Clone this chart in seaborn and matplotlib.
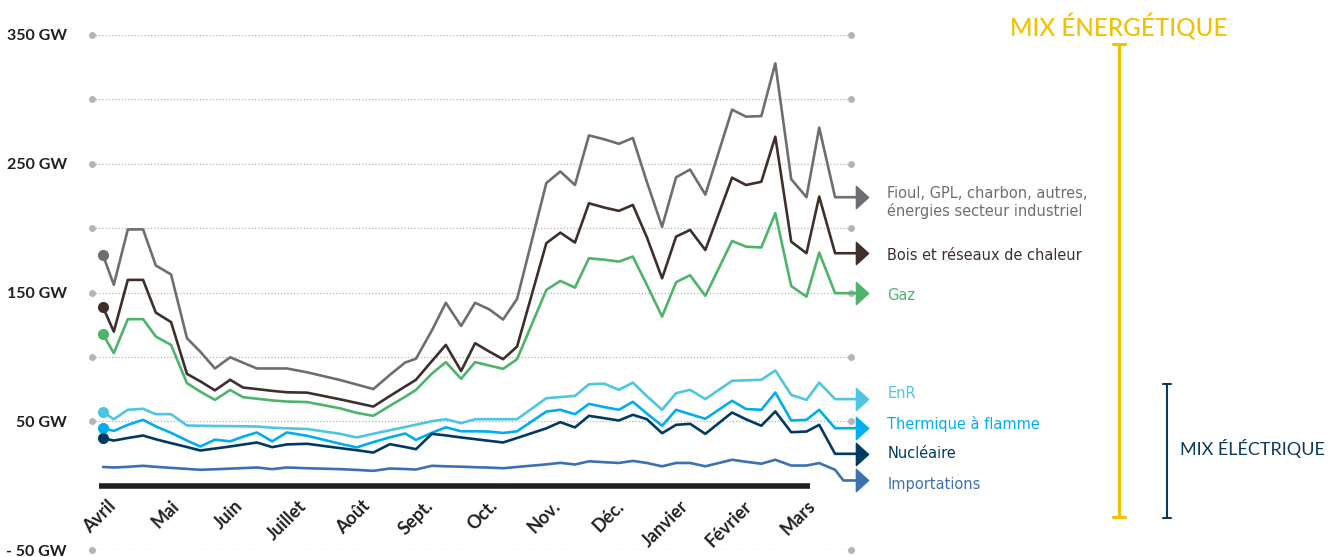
import numpy as np
import pandas as pd
import matplotlib
matplotlib.use("Agg")
import matplotlib.pyplot as plt
import seaborn as sns
from matplotlib.lines import Line2D
from matplotlib.path import Path

# ================= DATA =================
# x = months since 1st of April
X = [0.00, 0.17, 0.39, 0.63, 0.83, 1.07, 1.32, 1.53, 1.76, 2.00, 2.20, 2.42, 2.66, 2.89,
     3.21, 3.73, 3.99, 4.25, 4.51, 4.75, 4.92, 5.17, 5.39, 5.63, 5.85, 6.07, 6.29, 6.51,
     6.97, 7.19, 7.42, 7.64, 7.88, 8.11, 8.33, 8.55, 8.79, 9.01, 9.23, 9.47, 9.89, 10.11,
     10.35, 10.57, 10.82, 11.06, 11.26, 11.51, 11.64]

FIOUL = [179, 156, 199, 199, 171, 164, 114.5, 104, 91, 99.7, 95.5, 91, 91, 91, 88, 82, 78.5,
         75, 86, 95.6, 98.5, 120.5, 142, 124, 142, 137, 129, 145, 235, 244, 233.5, 272, 269,
         265.5, 270, 236, 201, 239.5, 245.5, 226, 292, 286.6, 287, 328, 238, 224, 278, 224, 224]
BOIS = [138.6, 119.6, 159.8, 159.8, 134.4, 127, 86.8, 81, 74, 82.2, 76.2, 75, 73.6, 72.5, 72.2,
        67, 64.2, 61.4, 69.6, 77, 82.2, 96.7, 109.3, 89, 110.6, 104.2, 98.2, 108, 188.3, 196.5,
        188.8, 219.3, 216, 213.4, 218, 193, 161, 193.4, 198.6, 183, 239.2, 233.5, 236, 271,
        189.5, 180.5, 224.5, 180.5, 180.5]
GAZ = [117.6, 102.9, 129.3, 129.3, 115.8, 109.3, 79.6, 73, 66.6, 74.3, 68.7, 67.5, 66.2, 65.3,
       64.9, 60, 56.5, 54.2, 62, 69, 74.3, 87, 95.9, 83, 95.9, 93.3, 90.7, 98.2, 152, 159, 153.8,
       176.6, 175.5, 174, 177.9, 156, 131.3, 158, 163.4, 147.4, 190, 185.6, 185, 211.6, 155,
       146.8, 181, 149.5, 149.5]
ENR = [57.1, 51.6, 58.9, 59.7, 55.5, 55.5, 46.7, 46.5, 46.3, 46.2, 46.1, 45.9, 45, 44.5, 44,
       40.2, 37.4, 40.3, 43, 45.5, 47.3, 50, 51.6, 48.5, 51.6, 51.6, 51.6, 51.6, 67.9, 68.8, 69.7,
       78.7, 79.2, 74.4, 80, 69.5, 58.9, 71.8, 74.4, 67.2, 81.4, 81.8, 82.2, 89.4, 70.5, 66.6, 80,
       67.2, 67.2]
THERMIQUE = [44.6, 42.5, 47.2, 51.1, 46, 41, 35, 30.4, 35.7, 34.4, 38, 41.3, 34.4, 41.3, 38.7,
             32.5, 29.7, 33.8, 37.5, 40.5, 35.5, 41, 45.3, 42.2, 42.2, 42, 40.9, 42.2, 57.5, 58.9,
             55.5, 63.5, 61, 58.9, 65.1, 56, 46.5, 58.9, 55.5, 51.9, 65.9, 59.5, 58.9, 72.3,
             50.6, 51.1, 58.9, 44.6, 44.6]
NUCLEAIRE = [36.8, 35, 37, 38.9, 36, 33, 30, 27.3, 28.8, 30.4, 31.9, 33.5, 29.9, 32, 32.5, 29.1,
             27.5, 25.7, 32.2, 30, 28.3, 40.2, 39, 37.4, 36.1, 34.8, 33.5, 37, 44.5, 49.3, 45.2,
             54.2, 52.4, 50.6, 55, 51.6, 40.7, 47.2, 48, 40.2, 56.8, 51.5, 46.5, 57.6, 41.5, 42,
             47.2, 24.7, 24.7]
IMPORTATIONS = [14.5, 14.1, 14.6, 15.4, 14.6, 13.8, 13, 12.3, 12.7, 13.2, 13.6, 14.1, 12.8, 14.1,
                13.5, 12.8, 12.2, 11.5, 13.3, 12.9, 12.5, 15.4, 15, 14.7, 14.3, 14, 13.5, 14.5,
                16.5, 17.7, 16.4, 18.9, 18.2, 17.6, 19.2, 17.6, 15, 17.6, 17.6, 15, 20.1, 18.5,
                17, 20.1, 15.6, 15.6, 17.5, 12.3, 4]

MONTHS = ["Avril", "Mai", "Juin", "Juillet", "Août", "Sept.", "Oct.", "Nov.", "Déc.",
          "Janvier", "Février", "Mars"]
YTICKS = [-50, 50, 150, 250, 350]
YTICK_LABELS = ["- 50 GW", "50 GW", "150 GW", "250 GW", "350 GW"]
GRID_LEVELS = [-50, 50, 100, 150, 200, 250, 300, 350]

SERIES = [
    ("Fioul, GPL, charbon, autres,\nénergies secteur industriel", FIOUL, "#6d6e71", 220, True),
    ("Bois et réseaux de chaleur", BOIS, "#3e2f2a", 178.5, True),
    ("Gaz", GAZ, "#4db46a", 147.5, True),
    ("EnR", ENR, "#4fc6e1", 71.5, True),
    ("Thermique à flamme", THERMIQUE, "#00aeef", 48, True),
    ("Nucléaire", NUCLEAIRE, "#003a63", 24.7, True),
    ("Importations", IMPORTATIONS, "#3d70b2", 0.5, False),
]

END_X = 11.93
LABEL_X = 12.33

# ================= STYLE =================
sns.set_theme(style="white")
plt.rcParams["font.family"] = ["Lato", "DejaVu Sans"]
NARROW = ["Liberation Sans Narrow", "DejaVu Sans"]

W, H = 1340, 557
fig = plt.figure(figsize=(W / 100, H / 100), dpi=100)
ax = fig.add_axes([92 / W, 7 / H, (851 - 92) / W, 515 / H])
ax.set_xlim(-0.173, 11.76)
ax.set_ylim(-50, 350)
sns.despine(ax=ax, left=True, bottom=True)
ax.set_xticks([])

# gridlines with dots at the ends
for lvl in GRID_LEVELS:
    ax.axhline(lvl, color="#b5b5b8", lw=0.9, ls=(0, (1, 1.6)), zorder=0)
    ax.plot([-0.173, 11.76], [lvl, lvl], "o", color="#b5b5b8", ms=4, clip_on=False, zorder=0)

ax.set_yticks(YTICKS, YTICK_LABELS)
ax.tick_params(axis="y", length=0, pad=18)
for t in ax.get_yticklabels():
    t.set_fontweight("bold")
    t.set_fontsize(11.5)
    t.set_color("#231f20")

# thick black base line
ax.hlines(0, -0.06, 11.12, color="#231f20", lw=4, zorder=2)

arrow = Path([(-0.55, -1), (0.55, 0), (-0.55, 1), (-0.55, -1)],
             [Path.MOVETO, Path.LINETO, Path.LINETO, Path.CLOSEPOLY])

for label, vals, color, ly, dot in SERIES:
    df = pd.DataFrame({"x": X + [END_X], "y": vals + [vals[-1]]})
    sns.lineplot(data=df, x="x", y="y", ax=ax, color=color, lw=1.9,
                 clip_on=False, zorder=3, estimator=None, sort=False)
    if dot:
        ax.plot(X[0], vals[0], "o", color=color, ms=7, clip_on=False, zorder=4)
    ax.plot(END_X, vals[-1], marker=arrow, color=color, ms=16, clip_on=False, zorder=4)
    ax.text(LABEL_X, ly, label, color=color, family=NARROW, fontstretch="condensed",
            fontsize=11.7, va="center", ha="left", linespacing=1.1, clip_on=False)

ax.set_xlabel("")
ax.set_ylabel("")

for i, m in enumerate(MONTHS):
    ax.text(i + 0.06, -9, m, rotation=45, ha="right", va="top", rotation_mode="anchor",
            fontsize=13, fontweight="bold", color="#231f20")

# ================= RIGHT SIDE BRACKETS =================
def fx(px):
    return px / W

def fy(py):
    return 1 - py / H

yellow = "#f2c100"
navy = "#0b3a5e"
fig.text(fx(1119), fy(27), "MIX ÉNERGÉTIQUE", color=yellow, fontsize=17.5,
         fontweight=500, ha="center", va="center")
fig.add_artist(Line2D([fx(1119), fx(1119)], [fy(44), fy(517)], color=yellow, lw=2.2))
for py in (44, 517):
    fig.add_artist(Line2D([fx(1113), fx(1125)], [fy(py), fy(py)], color=yellow, lw=2.2))

fig.add_artist(Line2D([fx(1167), fx(1167)], [fy(384), fy(518)], color=navy, lw=1.5))
for py in (384, 518):
    fig.add_artist(Line2D([fx(1163), fx(1171)], [fy(py), fy(py)], color=navy, lw=1.5))
fig.text(fx(1180), fy(449), "MIX ÉLÉCTRIQUE", color=navy, fontsize=13,
         ha="left", va="center")

plt.savefig("out.png", dpi=100)
